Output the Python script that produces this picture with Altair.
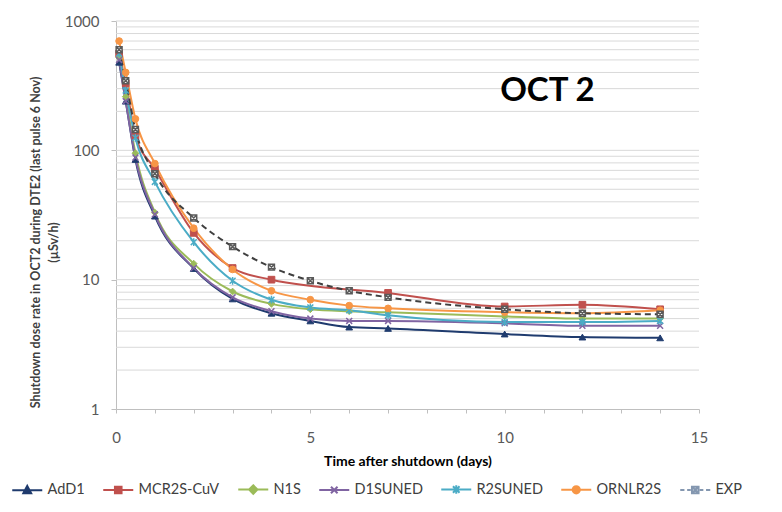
import altair as alt
import pandas as pd

# ---- data ----
times = [0.08, 0.25, 0.5, 1, 2, 3, 4, 5, 6, 7, 10, 12, 14]
series_names = ["AdD1", "MCR2S-CuV", "N1S", "D1SUNED", "R2SUNED", "ORNLR2S", "EXP"]

add1 = [480, 240, 85, 31, 12.2, 7.1, 5.5, 4.8, 4.3, 4.2, 3.8, 3.6, 3.55]
mcr2s = [560, 330, 130, 72, 23, 12.3, 10.0, None, None, 7.9, 6.2, 6.4, 5.9]
n1s = [520, 260, 95, 33, 13.3, 8.1, 6.5, 5.9, 5.7, 5.6, 5.2, 5.0, 5.0]
d1suned = [500, 240, 88, 32, 12.3, 7.3, 5.7, 5.0, 4.8, 4.8, 4.6, 4.4, 4.4]
r2suned = [560, 290, 125, 57, 19.5, 9.8, 7.0, 6.1, 5.8, 5.3, 4.7, 4.7, 4.8]
ornlr2s = [700, 400, 175, 79, 25, 12.0, 8.2, 7.0, 6.3, 6.0, 5.6, 5.5, 5.8]
exp = [600, 345, 145, 66, 30, 18, 12.5, 9.8, 8.2, 7.3, 5.9, 5.5, 5.4]

all_values = [add1, mcr2s, n1s, d1suned, r2suned, ornlr2s, exp]

y_label_values = [1, 10, 100, 1000]
x_tick_values = list(range(16))
grid_values = [2, 3, 4, 5, 6, 7, 8, 9, 10, 20, 30, 40, 50, 60, 70, 80, 90,
               100, 200, 300, 400, 500, 600, 700, 800, 900, 1000]

# ---- styles ----
line_colors = ["#1F3B6E", "#C0504D", "#9BBB59", "#8064A2", "#4BACC6", "#F79646", "#404040"]
dashes = [None, None, None, None, None, None, [6, 4]]
plot_shapes = [
    "triangle-up",
    "square",
    "diamond",
    "M-1,-1L1,1M-1,1L1,-1",
    "M-1,-1L1,1M-1,1L1,-1M0,-1.3L0,1.3",
    "circle",
    "M-1,-1H1V1H-1ZM-1,-1L1,1M-1,1L1,-1",
]
point_filled = [True, True, True, False, False, True, False]
point_stroke = ["#1F3B6E", "#C0504D", "#9BBB59", "#8064A2", "#4BACC6", "#F79646", "#5A5A5A"]

line_part = "M-2.5,0H2.5"
legend_shapes = [
    line_part + "M0,-0.7L0.65,0.5L-0.65,0.5Z",
    line_part + "M-0.55,-0.55H0.55V0.55H-0.55Z",
    line_part + "M0,-0.7L0.7,0L0,0.7L-0.7,0Z",
    line_part + "M-0.55,-0.55L0.55,0.55M-0.55,0.55L0.55,-0.55",
    line_part + "M-0.55,-0.55L0.55,0.55M-0.55,0.55L0.55,-0.55M0,-0.7L0,0.7",
    line_part + "M0.6,0A0.6,0.6 0 1,1 -0.6,0A0.6,0.6 0 1,1 0.6,0Z",
    "M-2.5,0H-1.8M-1.35,0H-0.75M0.75,0H1.35M1.8,0H2.5"
    "M-0.55,-0.55H0.55V0.55H-0.55ZM-0.55,-0.55L0.55,0.55M-0.55,0.55L0.55,-0.55",
]
legend_fill = ["#1F3B6E", "#C0504D", "#9BBB59", "#8064A2", "#4BACC6", "#F79646", "#FFFFFF"]
legend_stroke = ["#1F3B6E", "#C0504D", "#9BBB59", "#8064A2", "#4BACC6", "#F79646", "#8497B0"]

rows = []
for name, vals in zip(series_names, all_values):
    for t, v in zip(times, vals):
        if v is not None:
            rows.append({"series": name, "time": t, "value": v})
df = pd.DataFrame(rows)
grid_df = pd.DataFrame({"value": grid_values})
note_df = pd.DataFrame({"time": [11.1], "value": [290], "label": ["OCT 2"]})

FONT = "Lato"

xscale = alt.Scale(domain=[0, 15], nice=False)
yscale = alt.Scale(type="log", domain=[1, 1000], nice=False)

x_axis = alt.Axis(
    title="Time after shutdown (days)", values=x_tick_values,
    labelExpr="datum.value % 5 == 0 ? datum.label : ''",
    labelOverlap=False, labelFlush=False,
    grid=False, tickSize=4, tickColor="#BFBFBF", domainColor="#BFBFBF",
    labelFontSize=15, labelColor="#595959", labelPadding=17, labelFont=FONT,
    titleFontSize=14, titleFont=FONT, titleFontWeight="bold", titleColor="#000000",
    titlePadding=9,
)
y_axis = alt.Axis(
    title=["Shutdown dose rate in OCT2 during DTE2 (last pulse 6 Nov)", "(\u00b5Sv/h)"],
    values=y_label_values, format="d", grid=False, labelOverlap=False,
    tickSize=5, tickColor="#BFBFBF", domainColor="#BFBFBF",
    labelFontSize=15, labelColor="#595959", labelPadding=12, labelFont=FONT,
    titleFontSize=12.5, titleFont=FONT, titleFontWeight="bold", titleColor="#404040",
    titleLineHeight=18, titleX=-74, titleY=221, titleBaseline="bottom",
)

def X():
    return alt.X("time:Q", scale=xscale, axis=x_axis)

def Y():
    return alt.Y("value:Q", scale=yscale, axis=y_axis)

grid = alt.Chart(grid_df).mark_rule(color="#D9D9D9", strokeWidth=1).encode(y=Y())

line_layers = []
point_layers = []
for name, col, dsh, shp, fl, sc in zip(series_names, line_colors, dashes, plot_shapes,
                                       point_filled, point_stroke):
    base = alt.Chart(df).transform_filter(alt.datum.series == name)
    line_kw = dict(strokeWidth=2, interpolate="monotone", color=col)
    if dsh:
        line_kw["strokeDash"] = dsh
    line_layers.append(base.mark_line(**line_kw).encode(x=X(), y=Y(), order=alt.Order("time:Q")))
    if fl:
        mk = base.mark_point(shape=shp, filled=True, size=45, fill=sc, stroke=sc,
                             strokeWidth=1, opacity=1)
    else:
        mk = base.mark_point(shape=shp, filled=False, size=35, fill="white", fillOpacity=1,
                             stroke=sc, strokeWidth=1.5, opacity=1)
    point_layers.append(mk.encode(x=X(), y=Y()))

# legend-only layer: its points sit below the y domain and are clipped away
legend_df = pd.DataFrame({"entry": series_names, "time": [0] * 7, "value": [0.1] * 7})
legend_layer = alt.Chart(legend_df).mark_point(
    clip=True, strokeWidth=2, size=144, opacity=1, fillOpacity=1
).encode(
    x=X(), y=Y(),
    fill=alt.Fill("entry:N", scale=alt.Scale(domain=series_names, range=legend_fill), legend=alt.Legend(title=None)),
    stroke=alt.Stroke("entry:N", scale=alt.Scale(domain=series_names, range=legend_stroke), legend=alt.Legend(title=None)),
    shape=alt.Shape("entry:N", scale=alt.Scale(domain=series_names, range=legend_shapes), legend=alt.Legend(title=None)),
)

note = alt.Chart(note_df).mark_text(
    font=FONT, fontSize=33, fontWeight="bold", color="#000000"
).encode(x=X(), y=Y(), text="label:N")

chart = alt.layer(grid, *line_layers, *point_layers, legend_layer, note).properties(
    width=583, height=388,
    autosize=alt.AutoSizeParams(type="none"),
    padding={"left": 116, "top": 21, "right": 83, "bottom": 103},
).configure_view(stroke=None).configure_legend(
    orient="none", legendX=-96, legendY=461, direction="horizontal", columns=7,
    symbolSize=144, symbolStrokeWidth=2, labelFont=FONT, labelFontSize=14.5,
    labelColor="#404040", labelOffset=13, columnPadding=14, symbolLimit=10,
)

chart.save("out.html", embed_options={"renderer": "svg", "actions": False})
